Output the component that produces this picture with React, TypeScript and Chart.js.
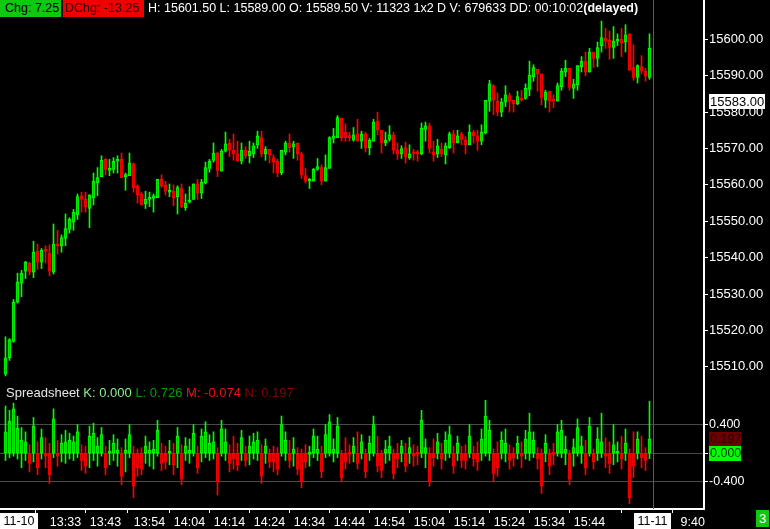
import React, { useEffect, useRef } from 'react';
import { Chart, registerables } from 'chart.js';

Chart.register(...registerables);

// ---------- data (1-minute bars) ----------
const OPEN = [
  15508, 15512.5, 15517, 15527.75, 15533, 15536.25, 15538.5, 15536, 15541.75, 15538.75,
  15542, 15541.25, 15536, 15543.5, 15543.25, 15545.25, 15547.75, 15549.75, 15551.75, 15557,
  15556, 15553.5, 15556.5, 15560.5, 15562.25, 15567, 15564, 15564.25, 15566.5, 15567,
  15562.25, 15562.5, 15565.75, 15559.75, 15557.5, 15554.75, 15556, 15556.25, 15556.5, 15561.5,
  15560, 15558, 15558.25, 15556.75, 15559, 15553.75, 15555.25, 15556, 15560.25, 15557.75,
  15560.5, 15564.5, 15566.75, 15568.75, 15563.75, 15569.25, 15571.5, 15569.5, 15568.5, 15566.5,
  15569.5, 15568, 15568.5, 15571, 15573, 15568.5, 15569.75, 15567.5, 15566.5, 15563.25,
  15569, 15571.5, 15570.5, 15571.5, 15568.5, 15562.5, 15561, 15561, 15564.25, 15564.75,
  15561, 15564.5, 15572.75, 15573, 15578.25, 15574.5, 15573.25, 15572.25, 15574, 15572,
  15574, 15570.25, 15572, 15577.5, 15575, 15571.5, 15572.5, 15573.75, 15569.5, 15568.5,
  15570.25, 15567.5, 15569, 15568.75, 15568.5, 15575.25, 15576.25, 15569, 15568.5, 15569.75,
  15568.25, 15570.25, 15574, 15571.5, 15574, 15572.25, 15571, 15574.5, 15573.5, 15572,
  15574.25, 15583, 15587.25, 15583, 15580, 15582.75, 15584.5, 15583.25, 15582.25, 15583.75,
  15583.75, 15586.25, 15589.75, 15591.75, 15590.5, 15583.25, 15585.75, 15583.25, 15583, 15587,
  15591, 15592, 15586.5, 15587.5, 15592.5, 15594, 15591, 15596.5, 15594.75, 15598.25,
  15600.25, 15599.75, 15597.75, 15599.5, 15600, 15599.25, 15601.5, 15592.25, 15589.5, 15592.5,
  15591.25, 15589.5,
];
const HIGH = [
  15518.25, 15517.75, 15528.5, 15535.75, 15536.5, 15539, 15538.75, 15544.5, 15543.75, 15542.5,
  15543.25, 15543.5, 15549.25, 15547.5, 15546.25, 15552, 15551, 15553.25, 15557.5, 15558,
  15558, 15557.25, 15563.25, 15564.75, 15568, 15567.25, 15567, 15567.5, 15568, 15568.75,
  15563.25, 15568.75, 15566, 15560, 15558, 15558.25, 15558, 15557.5, 15561.5, 15562.75,
  15561, 15560.25, 15560, 15559.75, 15560.25, 15557.5, 15559.5, 15560.25, 15561.5, 15561.5,
  15566.25, 15567, 15571.5, 15569, 15569.75, 15574.5, 15572.5, 15574, 15572, 15571.5,
  15570.5, 15572, 15571.5, 15574.75, 15574.75, 15570.5, 15569.75, 15568.25, 15567, 15569.5,
  15572, 15574, 15572, 15571.5, 15569, 15564.5, 15561.75, 15564.5, 15567.25, 15565.5,
  15568.25, 15573.25, 15575.5, 15579, 15578.25, 15576.75, 15574.5, 15575.75, 15578, 15574.75,
  15574.5, 15572.75, 15578, 15580, 15575, 15574.5, 15576.25, 15574.5, 15571.5, 15570.75,
  15571.75, 15571, 15569.75, 15569.5, 15577, 15577.25, 15577, 15572, 15572.5, 15571.5,
  15571.5, 15574.5, 15575, 15575, 15574.5, 15573.25, 15576.5, 15575, 15575, 15576.5,
  15583.25, 15588.75, 15587.5, 15585.25, 15583.75, 15587.25, 15585.25, 15583.25, 15585.75, 15586,
  15587.75, 15594, 15593, 15591.75, 15590.5, 15586, 15585.75, 15584.75, 15588, 15592,
  15594.25, 15592, 15589, 15592.75, 15595.25, 15596.5, 15597.5, 15596.5, 15599.25, 15605,
  15603, 15602.25, 15603.5, 15601.5, 15603, 15604, 15601.5, 15598.5, 15593, 15595.5,
  15592, 15601.5,
];
const LOW = [
  15507.5, 15511.75, 15516.75, 15527.5, 15529.25, 15534.25, 15535.25, 15534.5, 15536.75, 15537,
  15538.5, 15535, 15535.5, 15541, 15541.5, 15543.25, 15546.75, 15547.5, 15550.5, 15552.5,
  15552.5, 15548.25, 15554.5, 15557, 15562.25, 15562.75, 15562.5, 15563.25, 15563.25, 15562,
  15558.5, 15562.5, 15558, 15555, 15554.5, 15553.5, 15554, 15552.5, 15556.5, 15559.25,
  15557.25, 15556.75, 15554.25, 15552, 15553.75, 15553, 15555, 15556, 15556, 15556.25,
  15560.25, 15563.5, 15566.25, 15562.25, 15563.75, 15569, 15567.75, 15566.75, 15566.5, 15565.75,
  15567.25, 15566, 15567.5, 15570, 15567.75, 15566.75, 15566, 15563.25, 15562.25, 15562.75,
  15568.25, 15569, 15567.25, 15566.75, 15561.75, 15560.5, 15559, 15561, 15564, 15560,
  15561, 15564.5, 15571.5, 15573, 15572, 15572, 15572, 15572, 15572, 15570,
  15569, 15568.25, 15572, 15573.75, 15568.75, 15570.75, 15572, 15568.5, 15567, 15567.25,
  15566, 15567, 15566.75, 15566.5, 15568.25, 15572, 15568.75, 15566.5, 15567.5, 15567.75,
  15565.75, 15570, 15568.75, 15571.5, 15571, 15568.5, 15571, 15571.5, 15569.5, 15571,
  15574, 15580.25, 15579.25, 15579, 15578.75, 15581.5, 15580, 15580, 15582, 15583,
  15583.5, 15584.5, 15588.5, 15585.75, 15582, 15581.25, 15580, 15581.25, 15583, 15586,
  15589.75, 15586, 15583.75, 15586, 15591, 15590, 15591, 15592.25, 15592.5, 15596.5,
  15597.5, 15594.5, 15594.75, 15598.25, 15595.25, 15596.5, 15591.5, 15588.75, 15588, 15590.5,
  15588.5, 15589,
];
const CLOSE = [
  15512.5, 15517.5, 15527.75, 15533.25, 15535.75, 15538.75, 15536, 15541.5, 15538.75, 15542,
  15541.75, 15536.25, 15543.75, 15543.25, 15545.5, 15548, 15550.5, 15552.5, 15556.75, 15556,
  15554, 15557.25, 15561, 15562, 15566.75, 15564.25, 15564.25, 15566.5, 15567, 15562,
  15562.5, 15566, 15559.25, 15557.25, 15554.5, 15556, 15556.5, 15557, 15561.5, 15559.75,
  15558.25, 15558.25, 15556.5, 15559.25, 15554, 15555, 15555.75, 15560.25, 15557.75, 15560.75,
  15564.75, 15566.5, 15568.75, 15564, 15569.25, 15571.25, 15569.5, 15568.5, 15566.5, 15569.5,
  15568, 15569.25, 15570.75, 15573.5, 15568.5, 15569.75, 15568.25, 15566.25, 15563.25, 15569.5,
  15571.5, 15570.25, 15571.25, 15568.5, 15562.75, 15561, 15561.25, 15564.25, 15565, 15561,
  15564.75, 15573, 15573.5, 15578.5, 15573, 15573, 15573, 15573.75, 15572, 15574,
  15570.25, 15572.25, 15577.25, 15575, 15571.5, 15572.25, 15573.75, 15569.5, 15568.5, 15570,
  15567.75, 15568.5, 15568.5, 15568.5, 15575.5, 15576.25, 15570, 15568.25, 15570.75, 15568.5,
  15570.75, 15574, 15571.5, 15573.5, 15572.5, 15571, 15574.5, 15573.5, 15572, 15574.5,
  15583.25, 15587.75, 15583.25, 15580, 15582.75, 15584.75, 15583, 15582.25, 15584.25, 15583.25,
  15586.5, 15590.25, 15592.25, 15590.5, 15584, 15585.5, 15583, 15583, 15587.25, 15591.25,
  15592, 15586.75, 15587.75, 15592.75, 15594, 15591, 15596.5, 15594.75, 15597.75, 15600.5,
  15599.5, 15597.75, 15599.5, 15600, 15599, 15601.25, 15591.5, 15589.5, 15592.75, 15591.25,
  15590, 15597.5,
];

// Spreadsheet indicator (open = 0)
const SP_CLOSE = [
  0.30, 0.45, 0.62, 0.35, 0.18, 0.16, -0.14, 0.38, -0.20, 0.22,
  -0.04, -0.30, 0.48, -0.04, 0.14, 0.16, 0.18, 0.16, 0.30, -0.10,
  -0.18, 0.24, 0.28, 0.10, 0.26, -0.20, 0.03, 0.14, 0.05, -0.32,
  0.04, 0.26, -0.46, -0.20, -0.22, 0.10, 0.04, 0.06, 0.32, -0.14,
  -0.12, 0.03, -0.16, 0.24, -0.36, 0.10, 0.04, 0.28, -0.20, 0.24,
  0.30, 0.14, 0.16, -0.40, 0.34, 0.16, -0.14, -0.08, -0.16, 0.22,
  -0.10, 0.10, 0.16, 0.18, -0.32, 0.10, -0.12, -0.12, -0.22, 0.40,
  0.18, -0.10, 0.06, -0.22, -0.40, -0.12, 0.02, 0.24, 0.06, -0.26,
  0.26, 0.44, 0.06, 0.38, -0.34, -0.12, -0.02, 0.10, -0.14, 0.16,
  -0.26, 0.14, 0.40, -0.18, -0.24, 0.06, 0.10, -0.28, -0.08, 0.10,
  -0.18, 0.08, -0.04, -0.02, 0.46, 0.08, -0.40, -0.06, 0.16, -0.08,
  0.18, 0.26, -0.18, 0.14, -0.10, -0.10, 0.24, -0.08, -0.12, 0.20,
  0.52, 0.32, -0.28, -0.20, 0.18, 0.14, -0.10, -0.06, 0.14, -0.04,
  0.20, 0.30, 0.18, -0.08, -0.46, 0.14, -0.18, -0.02, 0.30, 0.32,
  0.06, -0.36, 0.08, 0.36, 0.10, -0.20, 0.38, -0.12, 0.20, 0.16,
  -0.04, -0.14, 0.12, 0.03, -0.08, 0.14, -0.62, -0.18, 0.20, -0.06,
  -0.10, 0.197,
];
const SP_HIGH = [
  0.66, 0.60, 0.70, 0.52, 0.36, 0.30, 0.12, 0.50, 0.16, 0.34,
  0.22, 0.14, 0.62, 0.18, 0.26, 0.32, 0.28, 0.24, 0.40, 0.12,
  0.10, 0.38, 0.42, 0.22, 0.36, 0.10, 0.18, 0.26, 0.20, 0.08,
  0.20, 0.40, 0.10, 0.06, 0.08, 0.24, 0.16, 0.18, 0.46, 0.14,
  0.10, 0.18, 0.14, 0.36, 0.12, 0.22, 0.20, 0.40, 0.10, 0.34,
  0.44, 0.26, 0.30, 0.08, 0.46, 0.34, 0.12, 0.24, 0.14, 0.32,
  0.10, 0.24, 0.28, 0.30, 0.12, 0.20, 0.06, 0.10, 0.08, 0.52,
  0.30, 0.18, 0.22, 0.08, 0.06, 0.12, 0.10, 0.34, 0.24, 0.10,
  0.40, 0.54, 0.20, 0.50, 0.04, 0.22, 0.12, 0.22, 0.30, 0.26,
  0.06, 0.24, 0.52, 0.24, 0.04, 0.18, 0.24, 0.06, 0.14, 0.18,
  0.14, 0.22, 0.12, 0.10, 0.60, 0.20, 0.08, 0.20, 0.28, 0.14,
  0.30, 0.38, 0.10, 0.24, 0.10, 0.12, 0.40, 0.10, 0.16, 0.34,
  0.74, 0.46, 0.06, 0.16, 0.30, 0.34, 0.12, 0.08, 0.24, 0.16,
  0.32, 0.56, 0.30, 0.08, 0.06, 0.26, 0.06, 0.14, 0.40, 0.46,
  0.24, 0.04, 0.20, 0.48, 0.24, 0.18, 0.50, 0.06, 0.36, 0.56,
  0.22, 0.16, 0.40, 0.16, 0.24, 0.34, 0.06, 0.30, 0.30, 0.24,
  0.08, 0.726,
];
const SP_LOW = [
  -0.10, -0.06, -0.04, -0.08, -0.20, -0.10, -0.26, -0.12, -0.30, -0.08,
  -0.20, -0.42, -0.06, -0.18, -0.12, -0.14, -0.08, -0.10, -0.06, -0.24,
  -0.28, -0.20, -0.10, -0.18, -0.04, -0.30, -0.16, -0.10, -0.18, -0.44,
  -0.26, -0.06, -0.62, -0.32, -0.30, -0.14, -0.18, -0.22, -0.04, -0.24,
  -0.22, -0.16, -0.30, -0.20, -0.44, -0.10, -0.14, -0.04, -0.28, -0.12,
  -0.06, -0.10, -0.08, -0.58, -0.04, -0.10, -0.26, -0.22, -0.24, -0.10,
  -0.18, -0.16, -0.08, -0.10, -0.42, -0.14, -0.20, -0.26, -0.30, -0.04,
  -0.10, -0.20, -0.18, -0.30, -0.48, -0.20, -0.18, -0.06, -0.10, -0.34,
  -0.06, -0.04, -0.12, -0.06, -0.40, -0.22, -0.14, -0.12, -0.22, -0.08,
  -0.34, -0.10, -0.04, -0.26, -0.34, -0.14, -0.10, -0.36, -0.20, -0.12,
  -0.26, -0.14, -0.18, -0.16, -0.06, -0.20, -0.46, -0.18, -0.08, -0.22,
  -0.10, -0.06, -0.28, -0.10, -0.20, -0.22, -0.06, -0.18, -0.24, -0.10,
  -0.04, -0.10, -0.40, -0.32, -0.08, -0.12, -0.22, -0.18, -0.08, -0.20,
  -0.08, -0.10, -0.06, -0.22, -0.56, -0.12, -0.30, -0.16, -0.04, -0.06,
  -0.16, -0.44, -0.18, -0.04, -0.14, -0.30, -0.04, -0.22, -0.10, -0.06,
  -0.20, -0.28, -0.16, -0.12, -0.22, -0.10, -0.70, -0.34, -0.08, -0.20,
  -0.24, -0.074,
];

const PRICE_TICKS = [15510, 15520, 15530, 15540, 15550, 15560, 15570, 15580, 15590, 15600];
const SPREAD_TICKS = [-0.4, 0, 0.4];
const TIME_TICK_POS = [0, 15, 25, 36, 46, 56, 66, 76, 86, 96, 106, 116, 126, 136, 146, 161.8, 171.8];
const TIME_TICK_LABELS = ['11-10', '13:33', '13:43', '13:54', '14:04', '14:14', '14:24', '14:34', '14:44', '14:54', '15:04', '15:14', '15:24', '15:34', '15:44', '11-11', '9:40'];
const DATE_LABELS = ['11-10', '11-11'];
const SESSION_BREAK = 161.8;
const LAST_PRICE_MARK = 15583;

const HDR_CHG = '7.25';
const HDR_DCHG = '-13.25';
const HDR_HIGH = '15601.50';
const HDR_LOW = '15589.00';
const HDR_OPEN = '15589.50';
const HDR_VOL = '11323';
const HDR_SIZE = '1x2';
const HDR_DVOL = '679633';
const HDR_DD = '00:10:02';

const SP_K = 0.0;
const SP_L = 0.726;
const SP_M = -0.074;
const SP_N = 0.197;

// ---------- layout constants ----------
const X_MIN = -1.375;
const X_MAX = 174.625;
const P_MIN = 15505;
const P_MAX = 15610.8;
const S_MIN = -0.777;
const S_MAX = 0.953;
const AXIS_W = 66;
const FONT = "'Liberation Sans', Arial, sans-serif";

const G_EDGE = '#00ff00';
const G_FILL = '#00c000';
const R_EDGE = '#ff0000';
const R_FILL = '#c80000';

function sepPlugin() {
  return {
    id: 'sessionSep',
    beforeDatasetsDraw(chart: any) {
      const { ctx, chartArea, scales } = chart;
      const x = Math.round(scales.x.getPixelForValue(SESSION_BREAK)) + 0.5;
      ctx.save();
      ctx.strokeStyle = '#5c5c5c';
      ctx.lineWidth = 1;
      ctx.beginPath();
      ctx.moveTo(x, chartArea.top);
      ctx.lineTo(x, chartArea.bottom);
      ctx.stroke();
      ctx.restore();
    },
  };
}

function boxPlugin(boxes: { value: number; text: string; bg: string; fg: string; w: number; size: number }[]) {
  return {
    id: 'valueBoxes',
    afterDraw(chart: any) {
      const { ctx, chartArea, scales } = chart;
      ctx.save();
      boxes.forEach((b) => {
        const y = scales.y.getPixelForValue(b.value);
        const left = chartArea.right + 5;
        const h = 15;
        ctx.fillStyle = b.bg;
        ctx.fillRect(left, Math.round(y - h / 2), b.w, h);
        ctx.fillStyle = b.fg;
        ctx.font = `${b.size}px ${FONT}`;
        ctx.textAlign = 'left';
        ctx.textBaseline = 'middle';
        ctx.fillText(b.text, left + 1, Math.round(y - h / 2) + h / 2 + 0.5);
      });
      ctx.restore();
    },
  };
}

function dateLabelPlugin() {
  return {
    id: 'dateLabels',
    afterDraw(chart: any) {
      const { ctx, chartArea, scales } = chart;
      ctx.save();
      ctx.font = `12.5px ${FONT}`;
      TIME_TICK_POS.forEach((pos, k) => {
        const lab = TIME_TICK_LABELS[k];
        if (!DATE_LABELS.includes(lab)) return;
        const px = scales.x.getPixelForValue(pos);
        const w = Math.ceil(ctx.measureText(lab).width) + 6;
        const left = Math.max(0, Math.round(px - w / 2));
        const top = chartArea.bottom + 4;
        ctx.fillStyle = '#ffffff';
        ctx.fillRect(left, top, w, 16);
        ctx.fillStyle = '#000000';
        ctx.textAlign = 'center';
        ctx.textBaseline = 'middle';
        ctx.fillText(lab, left + w / 2, top + 8.5);
      });
      ctx.restore();
    },
  };
}

function candleDatasets(lo: number[], hi: number[], op: number[], cl: number[]) {
  const up = op.map((o, i) => cl[i] >= o);
  return [
    {
      data: lo.map((l, i) => ({ x: i, y: [l, hi[i]] })),
      backgroundColor: up.map((u) => (u ? G_EDGE : R_EDGE)),
      borderWidth: 0,
      barThickness: 1,
      grouped: false,
      order: 2,
    },
    {
      data: op.map((o, i) => ({ x: i, y: [o, cl[i]] })),
      backgroundColor: up.map((u) => (u ? G_FILL : R_FILL)),
      borderColor: up.map((u) => (u ? G_EDGE : R_EDGE)),
      borderWidth: 1,
      borderSkipped: false,
      barThickness: 3,
      minBarLength: 2,
      grouped: false,
      order: 1,
    },
  ];
}

export default function App() {
  const mainRef = useRef<HTMLCanvasElement>(null);
  const lowRef = useRef<HTMLCanvasElement>(null);

  useEffect(() => {
    document.body.style.margin = '0';
    document.body.style.background = '#000';
    Chart.defaults.font.family = FONT;

    const main = new Chart(mainRef.current!, {
      type: 'bar',
      data: { datasets: candleDatasets(LOW, HIGH, OPEN, CLOSE) as any },
      options: {
        animation: false,
        responsive: false,
        maintainAspectRatio: false,
        events: [],
        layout: { padding: 0 },
        plugins: { legend: { display: false }, tooltip: { enabled: false } },
        scales: {
          x: { type: 'linear', min: X_MIN, max: X_MAX, display: false, offset: false },
          y: {
            type: 'linear',
            position: 'right',
            min: P_MIN,
            max: P_MAX,
            afterBuildTicks: (s: any) => {
              s.ticks = PRICE_TICKS.map((v) => ({ value: v }));
            },
            afterFit: (s: any) => {
              s.width = AXIS_W;
              s.paddingTop = 0;
              s.paddingBottom = 0;
            },
            grid: { drawOnChartArea: false, drawTicks: true, tickLength: 4, tickColor: '#ffffff', color: '#ffffff' },
            border: { display: true, color: '#ffffff', width: 2 },
            ticks: {
              color: '#ffffff',
              padding: 1,
              font: { size: 13, family: FONT },
              callback: (v: any) => Number(v).toFixed(2),
            },
          },
        },
      },
      plugins: [
        sepPlugin(),
        boxPlugin([{ value: LAST_PRICE_MARK, text: LAST_PRICE_MARK.toFixed(2), bg: '#ffffff', fg: '#000000', w: 56, size: 13 }]),
      ],
    } as any);

    const low = new Chart(lowRef.current!, {
      type: 'bar',
      data: {
        datasets: candleDatasets(SP_LOW, SP_HIGH, SP_CLOSE.map(() => SP_K), SP_CLOSE) as any,
      },
      options: {
        animation: false,
        responsive: false,
        maintainAspectRatio: false,
        events: [],
        layout: { padding: 0 },
        plugins: { legend: { display: false }, tooltip: { enabled: false } },
        scales: {
          x: {
            type: 'linear',
            position: 'bottom',
            min: X_MIN,
            max: X_MAX,
            offset: false,
            afterBuildTicks: (s: any) => {
              s.ticks = TIME_TICK_POS.map((v) => ({ value: v }));
            },
            afterFit: (s: any) => {
              s.height = 20;
              s.paddingLeft = 0;
              s.paddingRight = 0;
            },
            grid: { drawOnChartArea: false, drawTicks: true, tickLength: 4, tickColor: '#ffffff', color: '#ffffff' },
            border: { display: true, color: '#ffffff', width: 2 },
            ticks: {
              autoSkip: false,
              maxRotation: 0,
              minRotation: 0,
              color: '#ffffff',
              padding: 2,
              font: { size: 12.5, family: FONT },
              callback: (v: any) => {
                const k = TIME_TICK_POS.indexOf(Number(v));
                const lab = k >= 0 ? TIME_TICK_LABELS[k] : '';
                return DATE_LABELS.includes(lab) ? '' : lab;
              },
            },
          },
          y: {
            type: 'linear',
            position: 'right',
            min: S_MIN,
            max: S_MAX,
            afterBuildTicks: (s: any) => {
              s.ticks = SPREAD_TICKS.map((v) => ({ value: v }));
            },
            afterFit: (s: any) => {
              s.width = AXIS_W;
              s.paddingTop = 0;
              s.paddingBottom = 0;
            },
            grid: { drawOnChartArea: true, drawTicks: true, tickLength: 4, tickColor: '#ffffff', color: '#4a4a4a' },
            border: { display: true, color: '#ffffff', width: 2 },
            ticks: {
              color: '#ffffff',
              padding: 1,
              font: { size: 12.5, family: FONT },
              callback: (v: any) => (Number(v) === 0 ? '' : Number(v).toFixed(3)),
            },
          },
        },
      },
      plugins: [
        sepPlugin(),
        dateLabelPlugin(),
        boxPlugin([
          { value: SP_N, text: SP_N.toFixed(3), bg: '#6e0000', fg: '#250000', w: 32, size: 12.5 },
          { value: SP_K, text: SP_K.toFixed(3), bg: '#00ff00', fg: '#003000', w: 32, size: 12.5 },
        ]),
      ],
    } as any);

    return () => {
      main.destroy();
      low.destroy();
    };
  }, []);

  const txt: React.CSSProperties = {
    position: 'absolute',
    top: 0,
    height: 17,
    lineHeight: '17px',
    fontSize: 12.5,
    fontFamily: FONT,
    whiteSpace: 'pre',
    zIndex: 2,
  };

  return (
    <div style={{ position: 'relative', width: 770, height: 529, background: '#000', overflow: 'hidden', fontFamily: FONT }}>
      <canvas ref={mainRef} width={770} height={385} style={{ position: 'absolute', left: 0, top: 0, width: 770, height: 385 }} />
      <canvas ref={lowRef} width={770} height={144} style={{ position: 'absolute', left: 0, top: 385, width: 770, height: 144 }} />

      <div style={{ ...txt, left: 0, width: 61, background: '#10c810', color: '#000', paddingLeft: 5, boxSizing: 'border-box' }}>
        {`Chg: ${HDR_CHG}`}
      </div>
      <div style={{ ...txt, left: 63, width: 81, background: '#f00000', color: '#2a0000', paddingLeft: 2, boxSizing: 'border-box' }}>
        {`DChg: ${HDR_DCHG}`}
      </div>
      <div style={{ ...txt, left: 148, color: '#ffffff' }}>
        {`H: ${HDR_HIGH} L: ${HDR_LOW} O: ${HDR_OPEN} V: ${HDR_VOL} ${HDR_SIZE} D V: ${HDR_DVOL} DD: ${HDR_DD}`}
        <span style={{ fontWeight: 'bold' }}>(delayed)</span>
      </div>

      <div style={{ position: 'absolute', left: 6, top: 385, lineHeight: '15px', fontSize: 13, fontFamily: FONT, whiteSpace: 'pre', zIndex: 2 }}>
        <span style={{ color: '#e6e6e6' }}>Spreadsheet </span>
        <span style={{ color: '#8cf08c' }}>{`K: ${SP_K.toFixed(3)} `}</span>
        <span style={{ color: '#00a000' }}>{`L: ${SP_L.toFixed(3)} `}</span>
        <span style={{ color: '#f01010' }}>{`M: ${SP_M.toFixed(3)} `}</span>
        <span style={{ color: '#8a0000' }}>{`N: ${SP_N.toFixed(3)}`}</span>
      </div>

      <div style={{ position: 'absolute', left: 756, top: 510, width: 13, height: 17, lineHeight: '17px', background: '#10c810', color: '#fff', fontSize: 13, textAlign: 'center', fontFamily: FONT, zIndex: 2 }}>
        3
      </div>
    </div>
  );
}
